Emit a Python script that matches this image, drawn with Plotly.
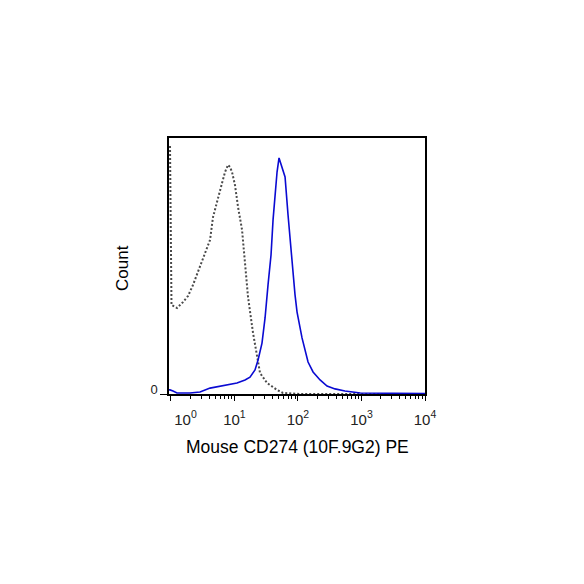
import numpy as np
import plotly.graph_objects as go

# Isotype control (dotted grey): log10 fluorescence, normalized count
iso_log = [-0.03, -0.014, 0.009, 0.096, 0.19, 0.27, 0.348, 0.427, 0.505, 0.568, 0.616,
           0.663, 0.71, 0.742, 0.773, 0.805, 0.852, 0.899, 0.93, 0.962, 1.009, 1.057,
           1.12, 1.167, 1.214, 1.293, 1.356, 1.403, 1.513, 1.671, 1.765, 2.03, 4.0]
iso_count = [96.5, 96.5, 34.8, 33.6, 35.9, 38.3, 42.6, 47.7, 52.3, 56.3, 60.2,
             69.1, 73.8, 75.8, 78.9, 82.4, 86.7, 89.5, 88.7, 86.7, 81.6, 73.0,
             64.1, 51.5, 37.9, 23.8, 14.5, 8.2, 4.3, 1.6, 0.4, 0.0, 0.0]

# Anti-CD274 stained sample (solid blue)
cd274_log = [-0.03, -0.014, 0.033, 0.096, 0.30, 0.458, 0.616, 0.773, 0.93, 1.04, 1.167,
             1.245, 1.324, 1.372, 1.434, 1.482, 1.529, 1.576, 1.608, 1.639, 1.671, 1.702,
             1.75, 1.797, 1.844, 1.907, 1.954, 1.986, 2.064, 2.159, 2.238, 2.348, 2.458,
             2.584, 2.74, 2.98, 4.0]
cd274_count = [1.6, 1.6, 1.2, 0.4, 0.4, 0.8, 2.3, 3.1, 3.9, 4.3, 5.5,
               6.6, 9.4, 13.3, 19.9, 29.7, 42.6, 54.3, 68.0, 77.7, 86.7, 92.2,
               88.3, 84.8, 69.9, 50.4, 38.7, 32.0, 21.9, 12.5, 8.6, 5.5, 3.1,
               2.0, 1.2, 0.4, 0.2]

major_vals = [1, 10, 100, 1000, 10000]
major_text = ["\u00a0" * 7 + "10<sup>0</sup>", "10<sup>1</sup>", "10<sup>2</sup>",
              "10<sup>3</sup>", "10<sup>4</sup>"]
minor_vals = [m * d for d in [1, 10, 100, 1000] for m in range(2, 10)]

x_title = "Mouse CD274 (10F.9G2) PE"
y_title = "Count"

FONT = "Arial, Liberation Sans, sans-serif"

fig = go.Figure()
fig.add_trace(go.Scatter(x=10 ** np.array(iso_log), y=iso_count, mode="lines",
                         line=dict(color="#4a4a4a", width=2, dash="2px,2px"),
                         showlegend=False, hoverinfo="skip"))
fig.add_trace(go.Scatter(x=10 ** np.array(cd274_log), y=cd274_count, mode="lines",
                         line=dict(color="#0a0ad2", width=1.6),
                         showlegend=False, hoverinfo="skip"))

fig.update_layout(
    width=584, height=584,
    margin=dict(l=161, r=167, t=130, b=198),
    paper_bgcolor="white", plot_bgcolor="white",
    font=dict(family=FONT, color="black"),
    xaxis=dict(type="log", range=[-0.03, 4.0], showgrid=False, zeroline=False,
               showline=True, linecolor="black", linewidth=1.5, mirror=True,
               ticks="outside", ticklen=5, tickwidth=1, tickcolor="black",
               tickvals=major_vals, ticktext=major_text, ticklabelstandoff=6,
               tickfont=dict(size=15, family=FONT, color="#222222"),
               minor=dict(tickvals=minor_vals, ticks="outside", ticklen=3,
                          tickwidth=1, tickcolor="black", showgrid=False)),
    yaxis=dict(range=[0, 100], showgrid=False, zeroline=False,
               showline=True, linecolor="black", linewidth=1.5, mirror=True,
               ticks="outside", ticklen=7, tickwidth=1, tickcolor="black",
               tickvals=[0], ticktext=["0"], ticklabelshift=-5,
               tickfont=dict(size=13, family=FONT, color="#222222")),
    annotations=[
        dict(text=x_title, xref="paper", yref="paper", x=0.5, y=-0.207,
             xanchor="center", yanchor="middle", showarrow=False,
             font=dict(size=17.5, family=FONT, color="black")),
        dict(text=y_title, xref="paper", yref="paper", x=-0.184, y=0.492,
             xanchor="center", yanchor="middle", showarrow=False, textangle=-90,
             font=dict(size=17, family=FONT, color="black")),
    ],
)

fig.write_html("out.html")
